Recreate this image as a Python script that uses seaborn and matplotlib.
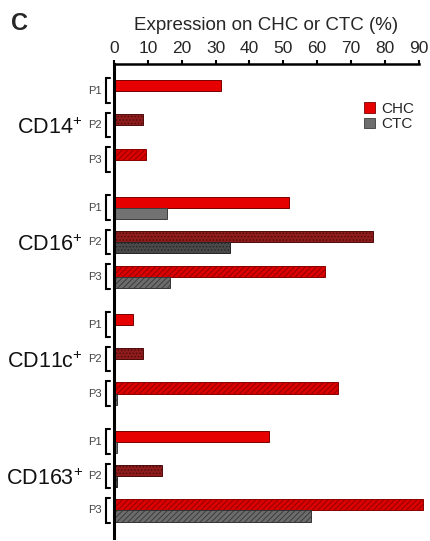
import matplotlib
matplotlib.use("Agg")
import matplotlib.pyplot as plt
import matplotlib.transforms as mtransforms
from matplotlib.patches import Patch
import pandas as pd
import seaborn as sns

# ---- data -------------------------------------------------------------
markers = ["CD14", "CD16", "CD11c", "CD163"]
patients = ["P1", "P2", "P3"]
cells = ["CHC", "CTC"]
# one value per (marker, patient), in marker-major order
chc_values = [31.5, 8.6, 9.4,
              51.6, 76.6, 62.3,
              5.5, 8.6, 66.2,
              45.7, 14.1, 91.3]
ctc_values = [0.0, 0.0, 0.0,
              15.8, 34.3, 16.6,
              0.0, 0.0, 0.8,
              1.0, 1.0, 58.3]
x_ticks = [0, 10, 20, 30, 40, 50, 60, 70, 80, 90]

# ---- style ------------------------------------------------------------
sns.set_style("white")
plt.rcParams["font.family"] = ["Liberation Sans", "DejaVu Sans"]
plt.rcParams["mathtext.fontset"] = "custom"
plt.rcParams["mathtext.rm"] = "Liberation Sans"
plt.rcParams["mathtext.default"] = "regular"
plt.rcParams["hatch.linewidth"] = 0.6

bar_styles = {
    "CHC": [dict(fc="#e60000", ec="#7a0000", hatch=None),
            dict(fc="#8e1c1c", ec="#4d0a0a", hatch="....."),
            dict(fc="#da0000", ec="#8a0000", hatch="//////")],
    "CTC": [dict(fc="#727272", ec="#3c3c3c", hatch=None),
            dict(fc="#4a4a4a", ec="#262626", hatch="....."),
            dict(fc="#6c6c6c", ec="#353535", hatch="//////")],
}

# ---- long table with a numeric row position --------------------------
group_step = 3.4
rows = []
for gi, marker in enumerate(markers):
    for pi, patient in enumerate(patients):
        k = gi * len(patients) + pi
        pos = gi * group_step + pi
        rows.append(dict(marker=marker, patient=patient, pos=pos, pidx=pi,
                         cell="CHC", value=chc_values[k]))
        rows.append(dict(marker=marker, patient=patient, pos=pos, pidx=pi,
                         cell="CTC", value=ctc_values[k]))
df = pd.DataFrame(rows)
positions = sorted(df["pos"].unique())

fig = plt.figure(figsize=(4.31, 5.41), dpi=100)
ax = fig.add_axes([0.2645, 0.0055, 0.7065, 0.8762])

sns.barplot(data=df, x="value", y="pos", hue="cell", hue_order=cells,
            orient="h", native_scale=True, width=0.64, dodge=True,
            errorbar=None, legend=False, ax=ax)

# restyle each bar by its patient row and its cell type
for bar in ax.patches:
    yc = bar.get_y() + bar.get_height() / 2
    pos = min(positions, key=lambda p: abs(p - yc))
    pidx = int(df.loc[df["pos"] == pos, "pidx"].iloc[0])
    cell = "CHC" if yc < pos else "CTC"
    st = bar_styles[cell][pidx]
    bar.set_facecolor(st["fc"])
    bar.set_edgecolor(st["ec"])
    bar.set_linewidth(0.7)
    if st["hatch"]:
        bar.set_hatch(st["hatch"])
    bar.set_clip_on(False)

# ---- axes -------------------------------------------------------------
ax.set_xlim(0, 90)
ax.set_ylim(13.0, -0.776)
ax.set_yticks([])
ax.set_ylabel("")
ax.xaxis.tick_top()
ax.xaxis.set_label_position("top")
ax.set_xticks(x_ticks)
ax.tick_params(axis="x", top=True, bottom=False, direction="out",
               length=3, width=1.5, pad=3, labelsize=12.5, color="black")
ax.set_xlabel("Expression on CHC or CTC (%)", fontsize=13.5, labelpad=8)
for side in ["right", "bottom"]:
    ax.spines[side].set_visible(False)
ax.spines["left"].set_linewidth(2.2)
ax.spines["top"].set_linewidth(1.8)
for side in ["left", "top"]:
    ax.spines[side].set_color("black")

# ---- brackets, patient labels and marker labels -----------------------
trans = mtransforms.blended_transform_factory(ax.transAxes, ax.transData)
half = 0.36
for gi, marker in enumerate(markers):
    for pi, patient in enumerate(patients):
        pos = gi * group_step + pi
        ax.plot([-0.0115, -0.027, -0.027, -0.0115],
                [pos - half, pos - half, pos + half, pos + half],
                transform=trans, clip_on=False, color="black", lw=1.5,
                solid_joinstyle="miter")
        ax.text(-0.041, pos, patient, transform=trans, ha="right",
                va="center", fontsize=8, color="#444444")
    ax.text(-0.103, gi * group_step + 1.08, marker + r"$^{+}$",
            transform=trans, ha="right", va="center", fontsize=15.5,
            color="#111111")

fig.text(0.026, 0.956, "C", fontsize=17, fontweight="bold", va="center",
         ha="left")

handles = [Patch(facecolor="#e60000", edgecolor="#7a0000", lw=0.6),
           Patch(facecolor="#6e6e6e", edgecolor="#3c3c3c", lw=0.6)]
ax.legend(handles, cells, loc="upper left", bbox_to_anchor=(0.845, 0.812),
          bbox_transform=fig.transFigure, frameon=False, fontsize=11,
          handlelength=0.7, handleheight=0.7, handletextpad=0.4,
          labelspacing=0.1, borderpad=0, borderaxespad=0)

fig.savefig("out.png", dpi=100)
